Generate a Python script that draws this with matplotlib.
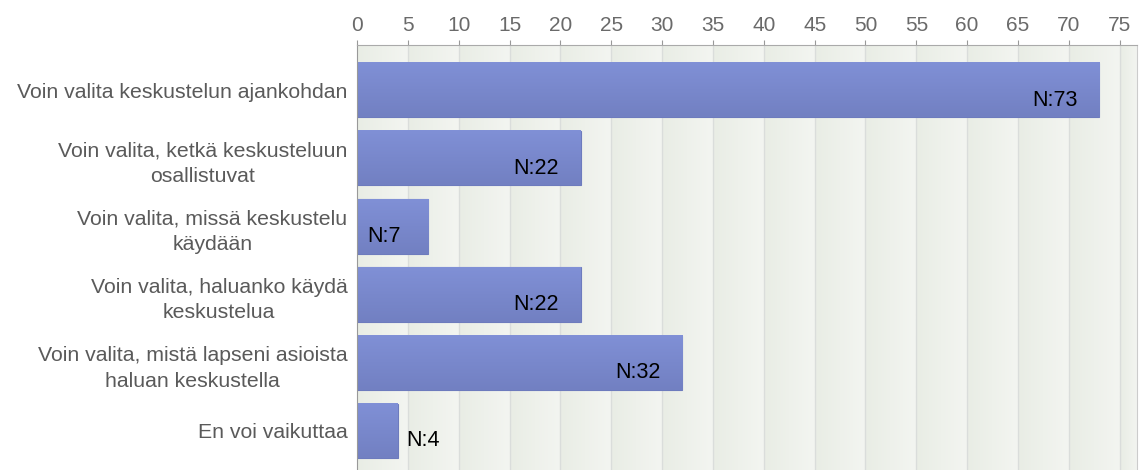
import matplotlib.pyplot as plt
import numpy as np
from matplotlib.colors import LinearSegmentedColormap

categories = [
    "Voin valita keskustelun ajankohdan",
    "Voin valita, ketkä keskusteluun\nosallistuvat",
    "Voin valita, missä keskustelu\nkäydään",
    "Voin valita, haluanko käydä\nkeskustelua",
    "Voin valita, mistä lapseni asioista\nhaluan keskustella",
    "En voi vaikuttaa",
]
values = [73, 22, 7, 22, 32, 4]
ticks = list(range(0, 80, 5))

plt.rcParams['font.family'] = ['Liberation Sans', 'DejaVu Sans']

fig = plt.figure(figsize=(11.46, 4.70), dpi=100)
ax = fig.add_axes([357 / 1146, -6 / 470, (1137 - 357) / 1146, (470 - 45 + 6) / 470])

ypos = np.arange(len(categories))
ax.set_xlim(0, 76.7)
ax.set_ylim(len(categories) - 0.34, -0.66)

# background: subtle gradient inside each grid cell
ax.set_facecolor('#eef1ea')
cell = np.linspace(0, 1, 30).reshape(1, -1)
bg = LinearSegmentedColormap.from_list('bg', ['#e9ede5', '#f3f5f1'])
for t in ticks:
    ax.imshow(cell, extent=[t, min(t + 5, 76.7), len(categories), -1], cmap=bg,
              aspect='auto', zorder=0)
for t in ticks[1:]:
    ax.axvline(t, color='#dadddb', lw=1, zorder=1)

# bars with a soft vertical gradient
grad = np.linspace(0, 1, 50).reshape(-1, 1)
cmap = LinearSegmentedColormap.from_list('b', ['#8090d6', '#7280c2'])
bars = ax.barh(ypos, values, height=0.8, color='#7886cc', edgecolor='#6d7bbd', lw=0.8, zorder=2)
for b in bars:
    x0, y0, w, h = b.get_x(), b.get_y(), b.get_width(), b.get_height()
    ax.imshow(grad, extent=[x0, x0 + w, y0 + h, y0], cmap=cmap, aspect='auto', zorder=2.5)

for y, v in zip(ypos, values):
    if v >= 15:
        ax.annotate(f"N:{v}", (v, y), xytext=(-22, -10), textcoords='offset pixels',
                    ha='right', va='center', fontsize=15.5, color='black', zorder=4)
    elif v >= 6:
        ax.annotate(f"N:{v}", (0, y), xytext=(10, -10), textcoords='offset pixels',
                    ha='left', va='center', fontsize=15.5, color='black', zorder=4)
    else:
        ax.annotate(f"N:{v}", (v, y), xytext=(9, -10), textcoords='offset pixels',
                    ha='left', va='center', fontsize=15.5, color='black', zorder=4)

ax.set_yticks(ypos)
ax.set_yticklabels(categories, fontsize=15.3, color='#5a5a5a', ha='right',
                   multialignment='center', linespacing=1.45)
ax.tick_params(axis='y', length=0, pad=7)

ax.xaxis.tick_top()
ax.set_xticks(ticks)
ax.set_xticklabels([str(t) for t in ticks], fontsize=15, color='#6a6a6a')
ax.tick_params(axis='x', direction='out', length=3.5, color='#999999', pad=4)

ax.spines['bottom'].set_visible(False)
ax.spines['top'].set_color('#aaaaaa')
ax.spines['left'].set_color('#999999')
ax.spines['right'].set_color('#cccccc')

fig.savefig('out.png', dpi=100)
